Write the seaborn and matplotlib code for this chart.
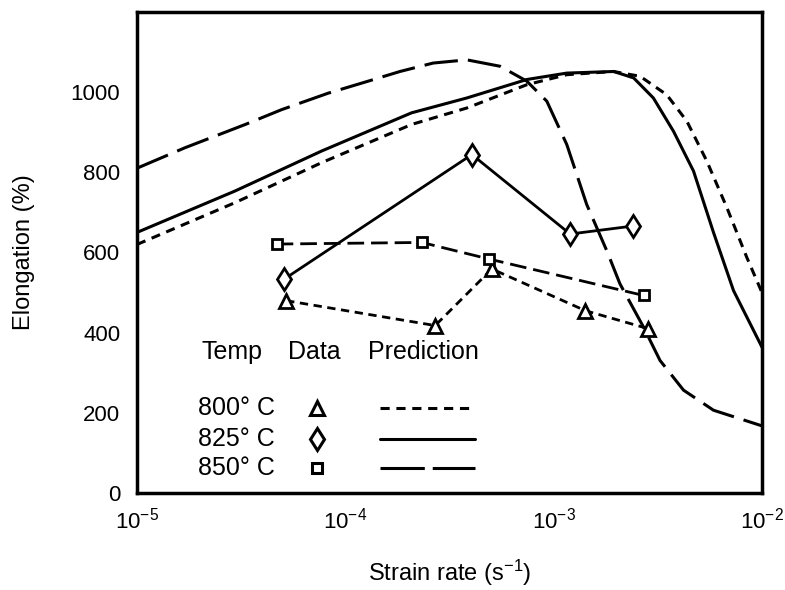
import matplotlib
matplotlib.use('Agg')
import matplotlib.pyplot as plt
from matplotlib.ticker import LogLocator, NullFormatter, FixedLocator
import seaborn as sns

# --- model predictions (strain rate in 1/s, elongation in %) ---
pred_rate_800 = [1.0e-5, 2.95e-5, 7.71e-5, 2.08e-4, 3.83e-4, 7.43e-4, 1.156e-3, 1.94e-3,
                 2.60e-3, 3.49e-3, 4.36e-3, 5.43e-3, 6.78e-3, 8.45e-3, 1.0e-2]
pred_elong_800 = [620, 724, 824, 919, 960, 1018, 1043, 1051, 1039, 993, 927, 828, 712, 588, 500]

pred_rate_825 = [1.0e-5, 2.95e-5, 7.71e-5, 2.08e-4, 3.83e-4, 7.43e-4, 1.156e-3, 1.94e-3,
                 2.42e-3, 3.01e-3, 3.76e-3, 4.69e-3, 5.85e-3, 7.30e-3, 1.0e-2]
pred_elong_825 = [650, 753, 853, 948, 985, 1031, 1047, 1051, 1035, 985, 902, 803, 650, 505, 364]

pred_rate_850 = [1.0e-5, 1.70e-5, 3.31e-5, 4.95e-5, 8.28e-5, 1.29e-4, 1.83e-4, 2.64e-4, 3.83e-4,
                 5.53e-4, 7.43e-4, 9.27e-4, 1.156e-3, 1.44e-3, 1.80e-3, 2.08e-3, 2.70e-3,
                 3.24e-3, 4.20e-3, 5.85e-3, 1.0e-2]
pred_elong_850 = [810, 861, 919, 956, 997, 1027, 1051, 1072, 1080, 1064, 1027, 977, 869, 720,
                  604, 522, 414, 331, 257, 207, 168]

# --- measured data ---
data_rate_800 = [5.2e-5, 2.7e-4, 5.05e-4, 1.42e-3, 2.85e-3]
data_elong_800 = [480, 418, 559, 455, 410]

data_rate_825 = [5.1e-5, 4.05e-4, 1.2e-3, 2.41e-3]
data_elong_825 = [534, 844, 646, 666]

data_rate_850 = [4.68e-5, 2.33e-4, 4.87e-4, 2.7e-3]
data_elong_850 = [621, 625, 584, 493]

temps = ['800\u00b0 C', '825\u00b0 C', '850\u00b0 C']
x_ticks = [1e-5, 1e-4, 1e-3, 1e-2]
x_ticklabels = ['$10^{-5}$', '$10^{-4}$', '$10^{-3}$', '$10^{-2}$']
y_ticks = [0, 200, 400, 600, 800, 1000]

sns.set_theme(style="white")
plt.rcParams['font.family'] = ['Liberation Sans', 'DejaVu Sans']
plt.rcParams['mathtext.default'] = 'regular'
plt.rcParams['text.color'] = 'black'
plt.rcParams['axes.labelcolor'] = 'black'

fig = plt.figure(figsize=(7.85, 5.90), dpi=100)
ax = fig.add_axes([0.1745, 0.1639, 0.7962, 0.8163])

pred_styles = [(0, (3, 2.2)), '-', (0, (11, 3.3))]
key_styles = [(0, (3, 2.2)), '-', (0, (14.5, 2.6))]
data_styles = [(0, (3, 2)), '-', (0, (6, 2.5))]
markers = ['^', 'd', 's']
msizes = [10, 11.5, 7.5]

preds = [(pred_rate_800, pred_elong_800), (pred_rate_825, pred_elong_825),
         (pred_rate_850, pred_elong_850)]
datas = [(data_rate_800, data_elong_800), (data_rate_825, data_elong_825),
         (data_rate_850, data_elong_850)]

for (px, py), ls in zip(preds, pred_styles):
    sns.lineplot(x=px, y=py, ax=ax, color='black', linewidth=2.2, linestyle=ls,
                 estimator=None, sort=False)

for (dx, dy), ls, mk, ms in zip(datas, data_styles, markers, msizes):
    sns.lineplot(x=dx, y=dy, ax=ax, color='black', linewidth=2.0, linestyle=ls,
                 marker=mk, markersize=ms, markerfacecolor='white',
                 markeredgecolor='black', markeredgewidth=2.0,
                 estimator=None, sort=False, zorder=3)

ax.set_xscale('log')
ax.set_xlim(1e-5, 1e-2)
ax.set_ylim(0, 1200)
ax.set_xticks(x_ticks)
ax.set_xticklabels(x_ticklabels)
ax.xaxis.set_minor_locator(LogLocator(base=10, subs=range(2, 10)))
ax.xaxis.set_minor_formatter(NullFormatter())
ax.set_yticks(y_ticks)
ax.yaxis.set_minor_locator(FixedLocator([100, 300, 500, 700, 900, 1100]))

ax.tick_params(axis='both', which='both', direction='in', colors='black',
               top=False, right=False, labelsize=16)
ax.tick_params(axis='y', which='both', length=8, width=1.6, pad=12)
ax.tick_params(axis='x', which='major', length=8, width=1.6, pad=10)
ax.tick_params(axis='x', which='minor', length=3, width=1.4)

for sp in ax.spines.values():
    sp.set_visible(True)
    sp.set_color('black')
    sp.set_linewidth(2.5)

ax.set_xlabel('Strain rate (s$^{-1}$)', fontsize=17)
ax.set_ylabel('Elongation (%)', fontsize=17)
ax.xaxis.set_label_coords(0.5, -0.133)
ax.yaxis.set_label_coords(-0.163, 0.5)

# hand-made key
fs = 18
ax.text(0.104, 0.2935, 'Temp', transform=ax.transAxes, fontsize=fs, va='center')
ax.text(0.2416, 0.2935, 'Data', transform=ax.transAxes, fontsize=fs, va='center')
ax.text(0.3696, 0.2935, 'Prediction', transform=ax.transAxes, fontsize=fs, va='center')
row_y = [0.1771, 0.1127, 0.0525]
for label, yy, mk, ms, ls in zip(temps, row_y, markers, msizes, key_styles):
    ax.text(0.0976, yy, label, transform=ax.transAxes, fontsize=fs, va='center')
    ax.plot([0.288], [yy], transform=ax.transAxes, marker=mk, markersize=ms,
            markerfacecolor='white', markeredgecolor='black', markeredgewidth=2.2,
            linestyle='none')
    ax.plot([0.389, 0.541], [yy, yy], transform=ax.transAxes, color='black',
            linewidth=2.2, linestyle=ls)

fig.savefig('out.png', dpi=100)
plt.close(fig)
